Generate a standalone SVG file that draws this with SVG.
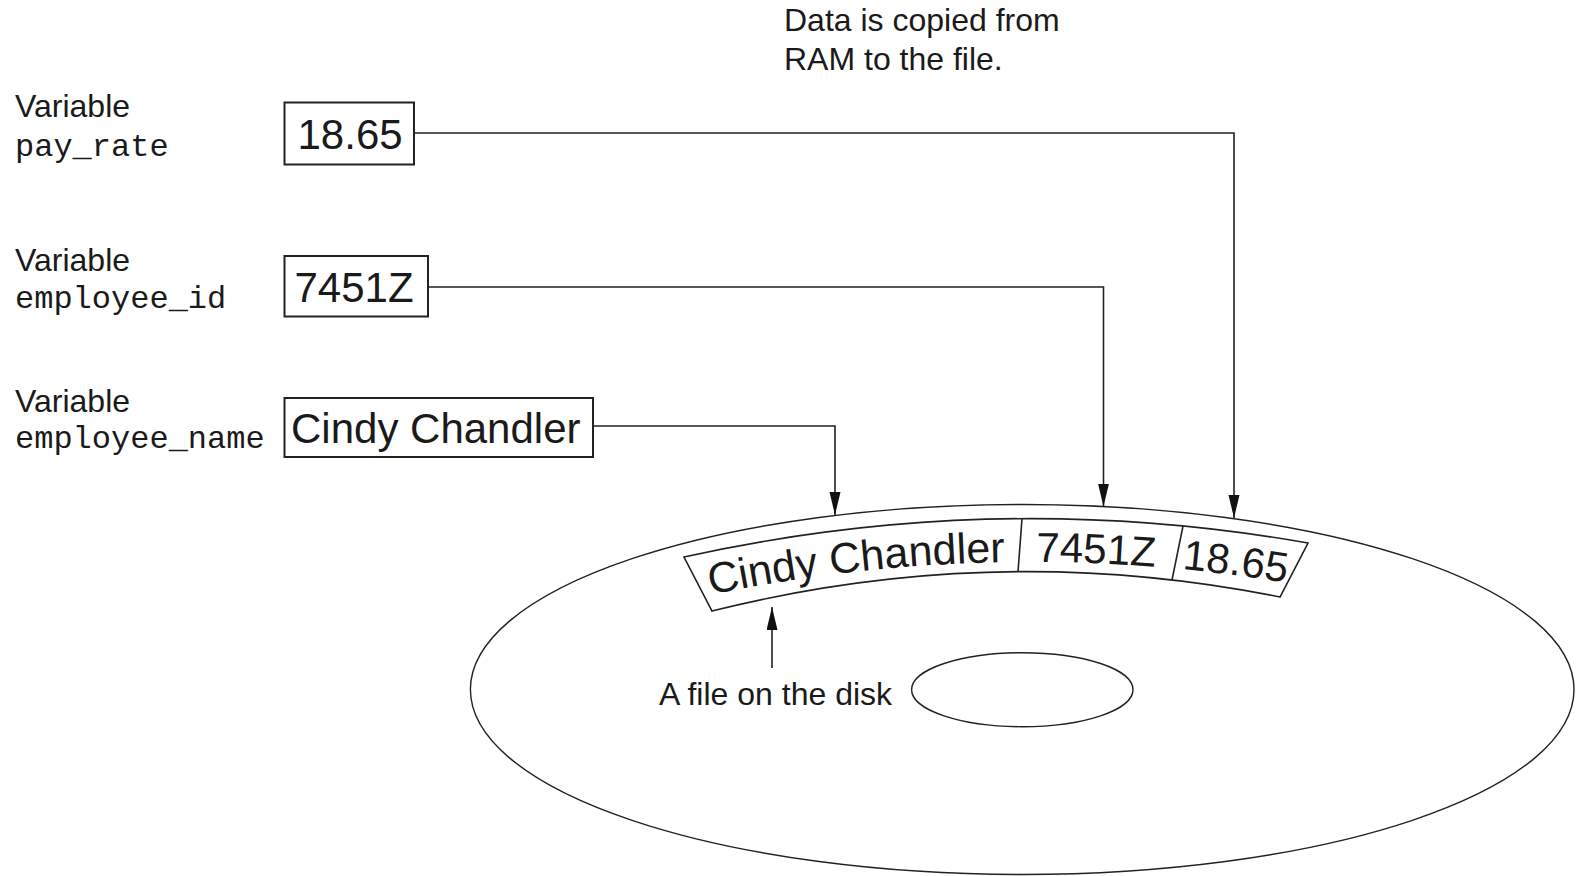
<svg xmlns="http://www.w3.org/2000/svg" width="1576" height="876" viewBox="0 0 1576 876">
<style>
.sans{font-family:"Liberation Sans",Arial,sans-serif;fill:#1a1a1a}
.mono{font-family:"Liberation Mono","Courier New",monospace;fill:#1a1a1a}
.lbl{font-size:32px}
.val{font-size:42px}
.box{fill:#fff;stroke:#222;stroke-width:2}
.ln{fill:none;stroke:#222;stroke-width:1.6}
.disk{fill:none;stroke:#222;stroke-width:1.4}
</style>
<defs>
<marker id="ah" markerUnits="userSpaceOnUse" markerWidth="24" markerHeight="12" refX="23" refY="5.5" orient="auto">
<path d="M0,0 L23,5.5 L0,11 z" fill="#111"/>
</marker>
<path id="bl" d="M600,621 Q1000,511.4 1400,605.1"/>
</defs>
<rect width="1576" height="876" fill="#fff"/>

<g id="caption">
<text class="sans lbl" x="784" y="31">Data is copied from</text>
<text class="sans lbl" x="784" y="69.5">RAM to the file.</text>
</g>

<g id="var-pay-rate">
<text class="sans lbl" x="15" y="116.5">Variable</text>
<text class="mono lbl" x="15" y="156">pay_rate</text>
<rect class="box" x="284.5" y="102.5" width="129.5" height="62"/>
<text class="sans val" x="297.5" y="148.5" font-size="41">18.65</text>
</g>

<g id="var-employee-id">
<text class="sans lbl" x="15" y="271">Variable</text>
<text class="mono lbl" x="15" y="307.5">employee_id</text>
<rect class="box" x="284.5" y="256" width="143.5" height="60.5"/>
<text class="sans val" x="294.5" y="302">7451Z</text>
</g>

<g id="var-employee-name">
<text class="sans lbl" x="15" y="411.5">Variable</text>
<text class="mono lbl" x="15" y="448">employee_name</text>
<rect class="box" x="284.5" y="398" width="308.5" height="59"/>
<text class="sans val" x="291" y="442.5">Cindy Chandler</text>
</g>

<g id="disk">
<ellipse class="disk" cx="1022.2" cy="689.5" rx="551.8" ry="185"/>
<ellipse class="disk" cx="1022.3" cy="689.7" rx="110.7" ry="37"/>
</g>

<g id="file-strip">
<path class="ln" d="M684,557 Q996,488 1308,543 L1280,597 Q996,540 712,611 Z" fill="#fff"/>
<line class="ln" x1="1022" y1="518.7" x2="1018" y2="571.7"/>
<line class="ln" x1="1183" y1="526" x2="1172" y2="580"/>
<text class="sans" font-size="43" text-anchor="middle"><textPath href="#bl" startOffset="262">Cindy Chandler</textPath></text>
<text class="sans" font-size="42" text-anchor="middle"><textPath href="#bl" startOffset="501">7451Z</textPath></text>
<text class="sans" font-size="42" text-anchor="middle"><textPath href="#bl" startOffset="640">18.65</textPath></text>
</g>

<g id="file-label">
<text class="sans lbl" x="659" y="705">A file on the disk</text>
</g>

<g id="connectors">
<polyline class="ln" points="414,133 1234,133 1234,518" marker-end="url(#ah)"/>
<polyline class="ln" points="428,287 1103.5,287 1103.5,506.5" marker-end="url(#ah)"/>
<polyline class="ln" points="593,426 835,426 835,515" marker-end="url(#ah)"/>
<line class="ln" x1="772" y1="668" x2="772" y2="607" marker-end="url(#ah)"/>
</g>
</svg>
